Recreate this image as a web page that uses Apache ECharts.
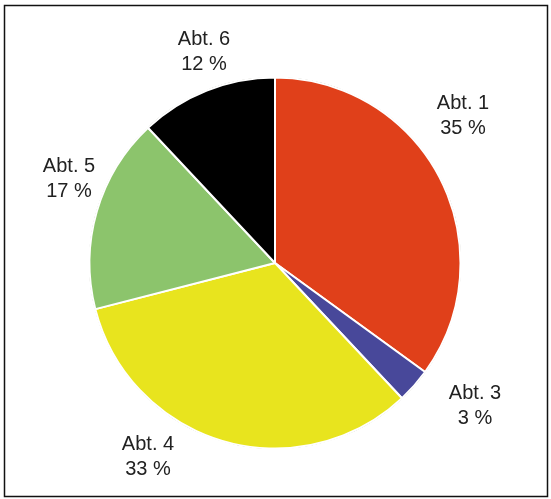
<!DOCTYPE html>
<html>
<head>
<meta charset="utf-8">
<script src="https://cdn.jsdelivr.net/npm/echarts@6/dist/echarts.min.js"></script>
<style>
  html, body { margin: 0; padding: 0; background: #fff; }
  #chart { width: 551px; height: 499px; }
</style>
</head>
<body>
<div id="chart"></div>
<script>
// Abteilungen, clockwise from 12 o'clock
var names = ['Abt. 1', 'Abt. 3', 'Abt. 4', 'Abt. 5', 'Abt. 6'];
var shares = [35, 3, 33, 17, 12];
var colors = ['#e0401a', '#48489a', '#e8e41e', '#8cc46c', '#000000'];

// label anchor offsets from pie center (px)
var labelOffsets = [[188, -147], [200, 143], [-127, 194], [-206, -84], [-71, -211]];

var cx = 275, cy = 263;

var chart = echarts.init(document.getElementById('chart'));

var pieData = names.map(function (n, i) {
  return { name: n, value: shares[i], itemStyle: { color: colors[i] } };
});

chart.setOption({
  animation: false,
  graphic: [{
    type: 'rect',
    shape: { x: 4.5, y: 5.5, width: 543, height: 491 },
    style: { fill: 'none', stroke: '#111', lineWidth: 1.5 },
    silent: true
  }],
  series: [
    {
      // thin dark rim behind the slices
      type: 'pie',
      silent: true,
      center: [cx, cy],
      radius: [0, 186],
      label: { show: false },
      labelLine: { show: false },
      itemStyle: { color: '#5a5a40' },
      data: [{ value: 1 }]
    },
    {
      type: 'pie',
      center: [cx, cy],
      radius: [0, 185.5],
      startAngle: 90,
      clockwise: true,
      itemStyle: { borderColor: '#fff', borderWidth: 2 },
      label: {
        show: true,
        position: 'outside',
        overflow: 'none',
        formatter: function (p) { return p.name + '\n' + p.value + ' %'; },
        fontFamily: 'Liberation Sans',
        fontSize: 20,
        lineHeight: 25,
        color: '#222',
        align: 'center'
      },
      labelLine: { show: false },
      labelLayout: function (p) {
        var o = labelOffsets[p.dataIndex];
        return { x: cx + o[0], y: cy + o[1], align: 'center', verticalAlign: 'middle' };
      },
      data: pieData
    }
  ]
});
</script>
</body>
</html>
